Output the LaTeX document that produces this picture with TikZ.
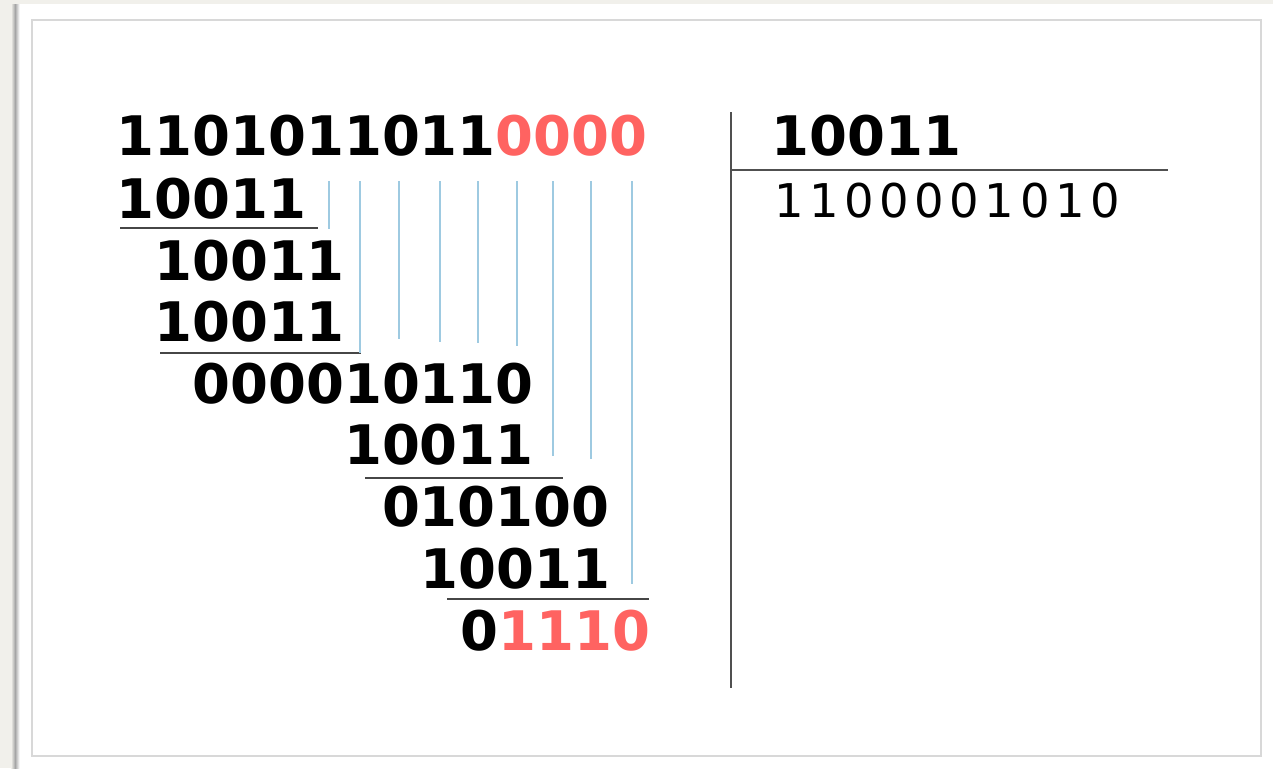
\documentclass[tikz,border=0pt]{standalone}
\usepackage{fontspec}
\setmainfont{DejaVu Sans}
\usetikzlibrary{calc}
\definecolor{beige}{RGB}{241,240,235}
\definecolor{shadowgray}{RGB}{165,165,165}
\definecolor{cardborder}{RGB}{216,216,216}
\definecolor{hl}{RGB}{255,99,97}
\definecolor{guide}{RGB}{158,202,225}
\definecolor{rule}{RGB}{70,70,70}
\definecolor{bar}{RGB}{80,80,80}
\newcommand{\hlred}[1]{\textcolor{hl}{#1}}
\begin{document}
\begin{tikzpicture}[x=1pt,y=-1pt,
  row/.style={anchor=base west, inner sep=0pt, outer sep=0pt,
    font=\fontsize{54.5}{60}\selectfont\bfseries},
  quotient/.style={anchor=base west, inner sep=0pt, outer sep=0pt,
    font=\fontsize{46.5}{50}\selectfont\addfontfeature{LetterSpace=12}},
  guideline/.style={draw=guide, line width=1.5pt},
  subline/.style={draw=rule, line width=2pt},
  barline/.style={draw=bar, line width=2.4pt}]
\useasboundingbox (0,0) rectangle (1273,768);
% page background and card
\fill[white] (0,0) rectangle (1273,768);
\fill[beige] (0,0) rectangle (1273,4);
\fill[beige] (0,0) rectangle (12,768);
\shade[left color=beige, right color=shadowgray] (11,4) rectangle (15,768);
\shade[left color=shadowgray, right color=white] (15,4) rectangle (19.5,768);
\fill[beige] (0,0) rectangle (19.5,4);
\draw[cardborder, line width=1.5pt] (32,20) rectangle (1261,756);
% column origin: x = 116.5 + 37.93 k
\node[row] (r1) at (116.5,155) {1101011011\hlred{0000}};
\node[row] (r2) at (116.5,218) {10011};
\node[row] (r3) at (154.43,280) {10011};
\node[row] (r4) at (154.43,341) {10011};
\node[row] (r5) at (192.36,403) {000010110};
\node[row] (r6) at (344.08,464) {10011};
\node[row] (r7) at (382.01,526) {010100};
\node[row] (r8) at (420.94,588) {10011};
\node[row] (r9) at (460.37,650) {0\hlred{1110}};
% subtraction rules
\draw[subline] (120,228) -- (318,228);
\draw[subline] (160,353) -- (361,353);
\draw[subline] (365,478) -- (563,478);
\draw[subline] (447,599) -- (649,599);
% bring-down guides
\draw[guideline] (329,181) -- (329,229);
\draw[guideline] (360,181) -- (360,353);
\draw[guideline] (399,181) -- (399,339);
\draw[guideline] (440,181) -- (440,342);
\draw[guideline] (478,181) -- (478,343);
\draw[guideline] (517,181) -- (517,346);
\draw[guideline] (553,181) -- (553,456);
\draw[guideline] (591,181) -- (591,459);
\draw[guideline] (632,181) -- (632,584);
% divisor and quotient
\draw[barline] (731,112) -- (731,688);
\draw[barline] (731,170) -- (1168,170);
\node[row] (div) at (771.5,155) {10011};
\node[quotient] (quo) at (774,217) {1100001010};
\end{tikzpicture}
\end{document}
